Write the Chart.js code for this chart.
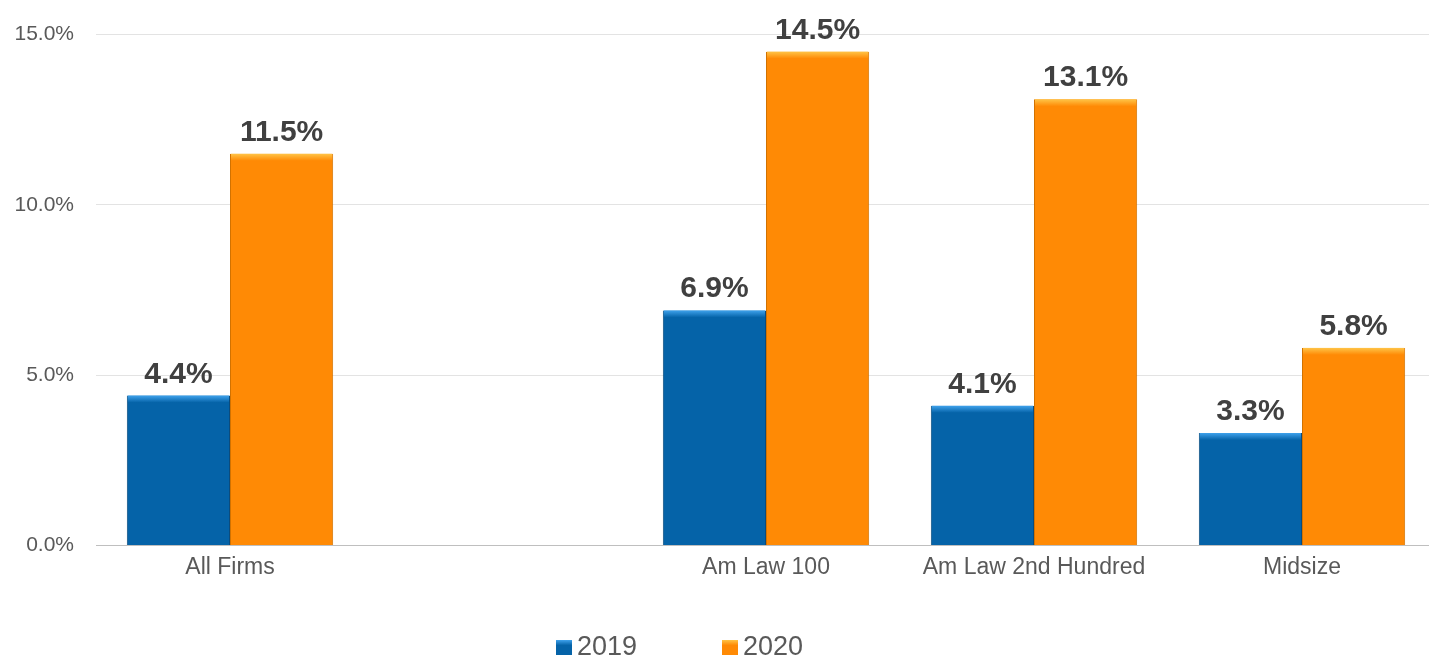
<!DOCTYPE html>
<html>
<head>
<meta charset="utf-8">
<script src="https://cdn.jsdelivr.net/npm/chart.js@4"></script>
<style>
  html, body { margin: 0; padding: 0; background: #fff; overflow: hidden; }
  #wrap { width: 1436px; height: 657px; position: relative; }
</style>
</head>
<body>
<div id="wrap"><canvas id="rateChart"></canvas></div>
<script>
// data
const categories = ['All Firms', '', 'Am Law 100', 'Am Law 2nd Hundred', 'Midsize'];
const seriesNames = ['2019', '2020'];
const values2019 = [4.4, null, 6.9, 4.1, 3.3];
const values2020 = [11.5, null, 14.5, 13.1, 5.8];
const yTicks = [0, 5, 10, 15];

const FONT = '"Liberation Sans", Arial, sans-serif';
const colors = {
    blue: { fill: '#0563A8', top: '#3FA2EC', edge: '#0B4C7E' },
    orange: { fill: '#FF8A05', top: '#FFC447', edge: '#D27200' }
};

// bevel on the bar tops + value labels
const barDecor = {
    id: 'barDecor',
    afterDatasetsDraw(chart) {
        const ctx = chart.ctx;
        chart.data.datasets.forEach((ds, di) => {
            const meta = chart.getDatasetMeta(di);
            const c = di === 0 ? colors.blue : colors.orange;
            meta.data.forEach((bar, i) => {
                const v = ds.data[i];
                if (v == null) return;
                const left = bar.x - bar.width / 2;
                const top = bar.y;
                const g = ctx.createLinearGradient(0, top, 0, top + 7);
                g.addColorStop(0, c.top);
                g.addColorStop(1, c.fill);
                ctx.save();
                ctx.fillStyle = g;
                ctx.fillRect(left + 1, top, bar.width - 2, 7);
                ctx.fillStyle = '#404040';
                ctx.font = 'bold 30px ' + FONT;
                ctx.textAlign = 'center';
                ctx.textBaseline = 'alphabetic';
                ctx.fillText(v.toFixed(1) + '%', bar.x, top - 13);
                ctx.restore();
            });
        });
    }
};

// legend under the plot
const bottomLegend = {
    id: 'bottomLegend',
    afterDraw(chart) {
        const ctx = chart.ctx;
        const xs = [556, 722];
        const base = 655;
        ctx.save();
        ctx.font = '27px ' + FONT;
        ctx.textBaseline = 'alphabetic';
        chart.data.datasets.forEach((ds, i) => {
            const c = i === 0 ? colors.blue : colors.orange;
            const g = ctx.createLinearGradient(0, base - 15, 0, base);
            g.addColorStop(0, c.top);
            g.addColorStop(0.35, c.fill);
            g.addColorStop(1, c.fill);
            ctx.fillStyle = g;
            ctx.fillRect(xs[i], base - 15, 16, 15);
            ctx.fillStyle = '#595959';
            ctx.fillText(ds.label, xs[i] + 21, base);
        });
        ctx.restore();
    }
};

new Chart(document.getElementById('rateChart'), {
    type: 'bar',
    data: {
        labels: categories,
        datasets: [
            { label: seriesNames[0], data: values2019, backgroundColor: colors.blue.fill, borderColor: colors.blue.edge, borderWidth: { left: 1, right: 1, top: 0, bottom: 0 } },
            { label: seriesNames[1], data: values2020, backgroundColor: colors.orange.fill, borderColor: colors.orange.edge, borderWidth: { left: 1, right: 1, top: 0, bottom: 0 } }
        ]
    },
    options: {
        responsive: true,
        maintainAspectRatio: false,
        animation: false,
        layout: { padding: { top: 32, right: 0, bottom: 68, left: 0 } },
        datasets: { bar: { categoryPercentage: 0.77, barPercentage: 1 } },
        plugins: { legend: { display: false }, tooltip: { enabled: false } },
        scales: {
            x: {
                grid: { display: false, drawTicks: false },
                border: { display: true, color: '#BFBFBF', width: 1 },
                ticks: { color: '#595959', font: { family: FONT, size: 23 }, padding: 8, maxRotation: 0, autoSkip: false }
            },
            y: {
                min: 0,
                max: 15,
                afterFit(scale) { scale.width = 96; },
                afterBuildTicks(scale) { scale.ticks = yTicks.map(v => ({ value: v })); },
                border: { display: false },
                grid: {
                    drawTicks: false,
                    color: ctx => ctx.tick && ctx.tick.value === 0 ? '#BFBFBF' : '#E3E3E3'
                },
                ticks: {
                    color: '#595959',
                    font: { family: FONT, size: 21 },
                    padding: 22,
                    callback: v => v.toFixed(1) + '%'
                }
            }
        }
    },
    plugins: [barDecor, bottomLegend]
});
</script>
</body>
</html>
